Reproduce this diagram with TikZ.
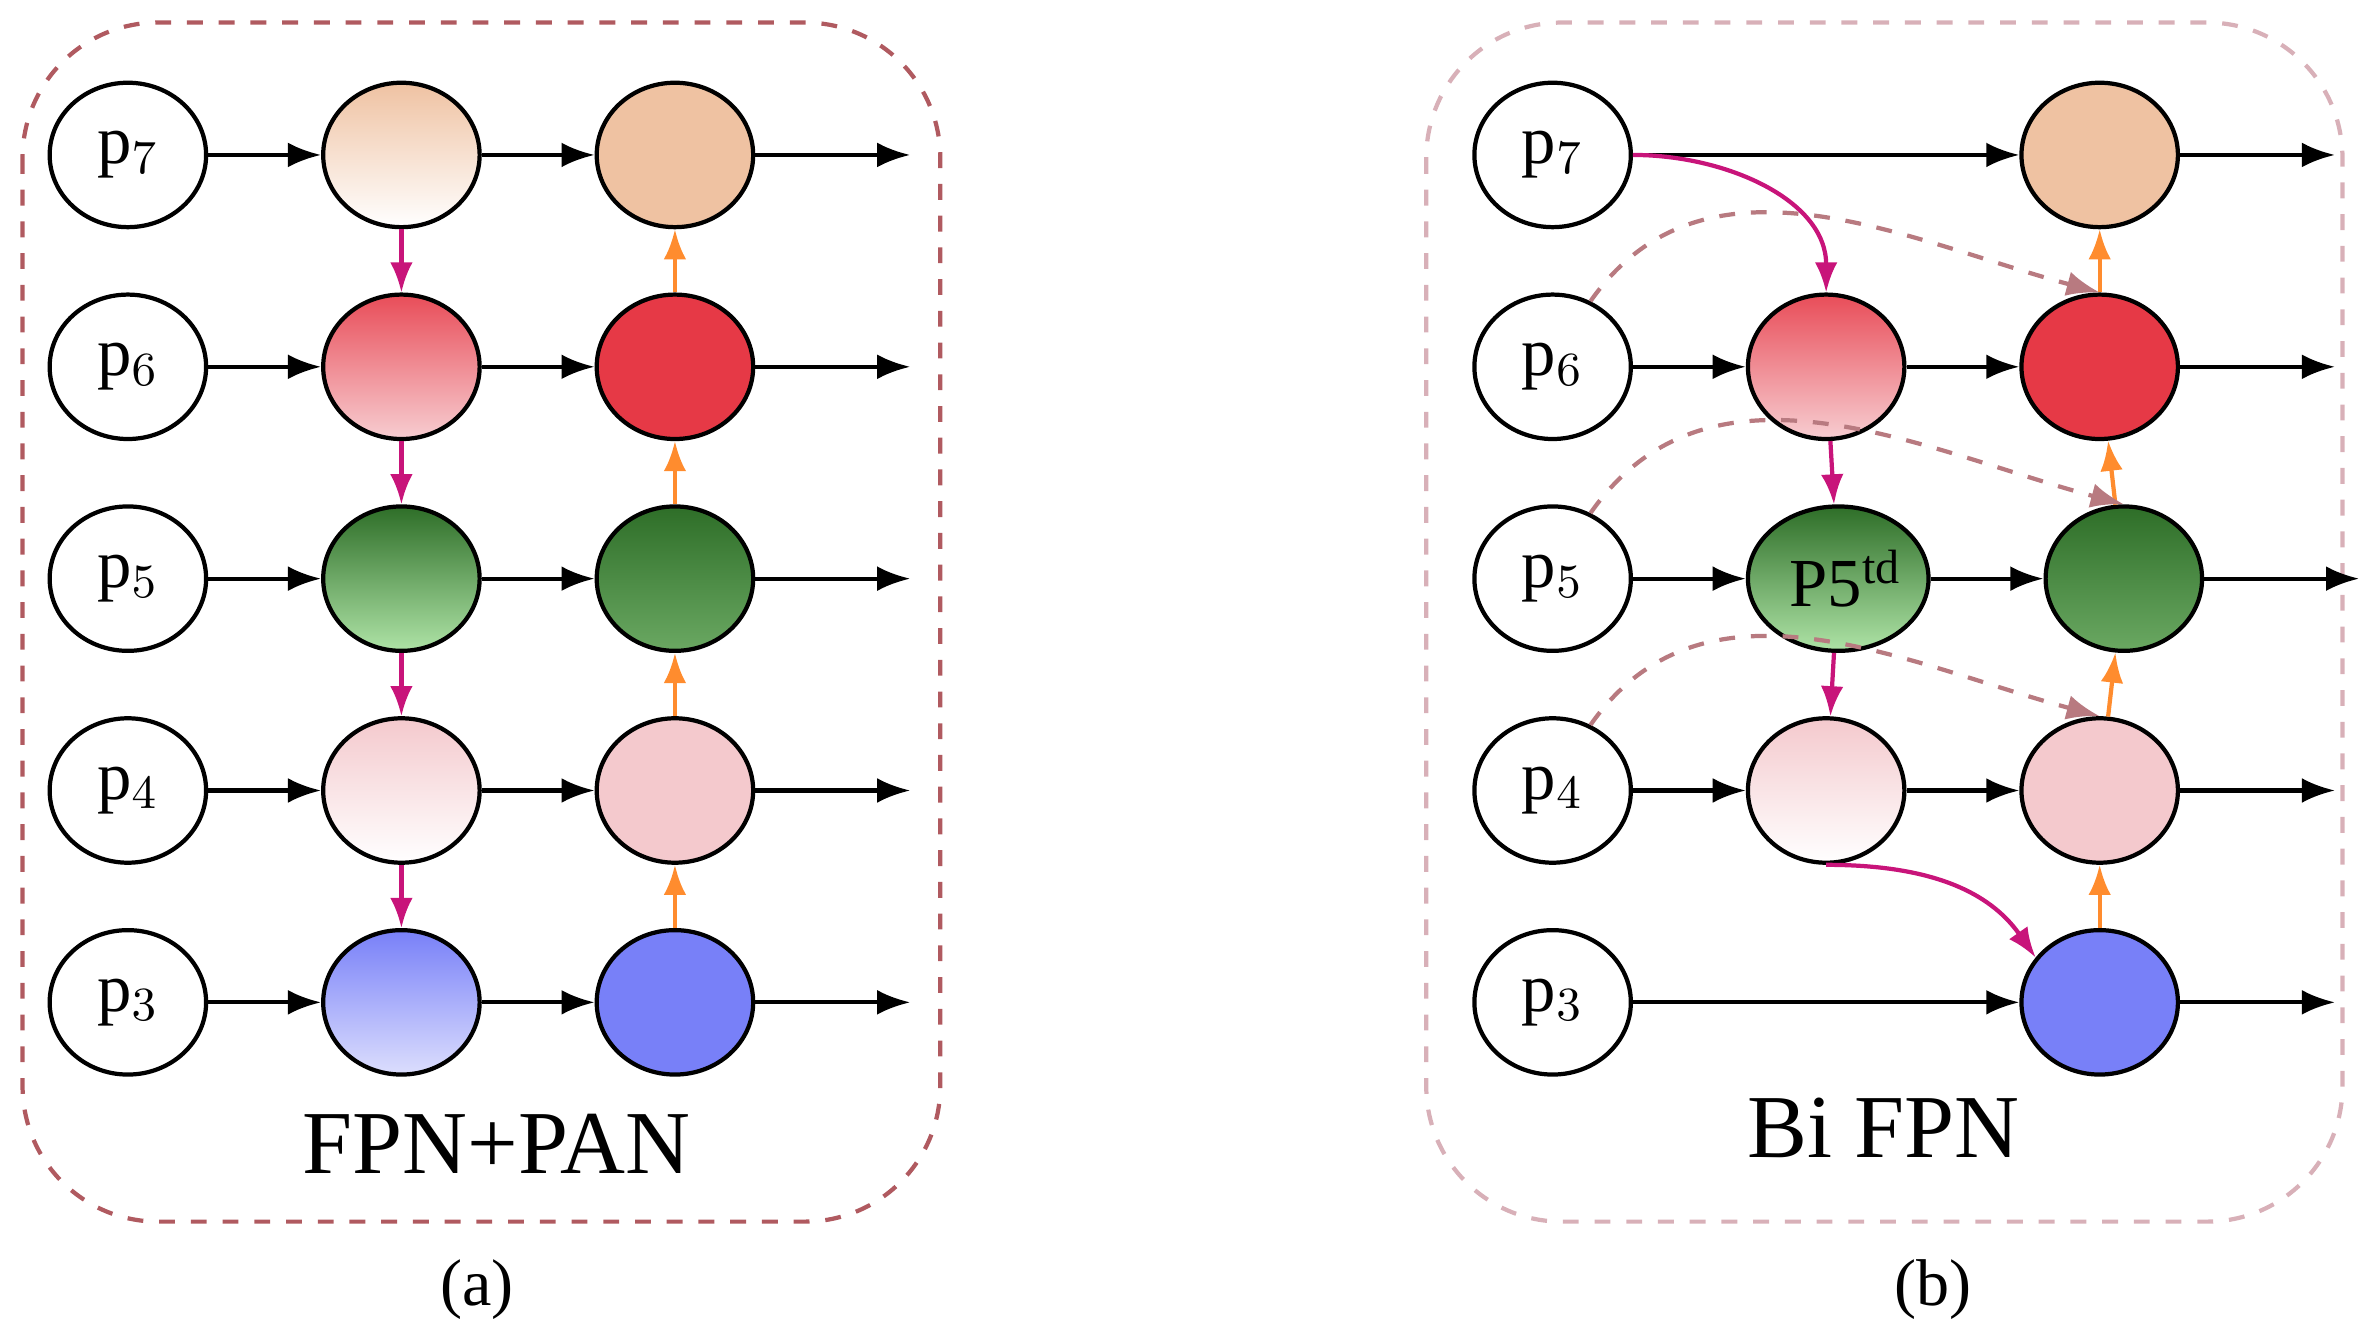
\documentclass[tikz,border=0pt]{standalone}
\usepackage{fontspec}
\setmainfont{Liberation Serif}
\usetikzlibrary{arrows.meta,positioning,shapes.geometric}

\definecolor{peach}{HTML}{EFC2A2}
\definecolor{redc}{HTML}{E63946}
\definecolor{redl}{HTML}{F7CDD1}
\definecolor{greend}{HTML}{2E6E28}
\definecolor{greenm}{HTML}{5CC458}
\definecolor{greenl}{HTML}{AEE3A6}
\definecolor{greenr}{HTML}{6AA862}
\definecolor{pinkc}{HTML}{F4C9CD}
\definecolor{bluec}{HTML}{7880F8}
\definecolor{bluel}{HTML}{DCDEFD}
\definecolor{magc}{HTML}{C8147A}
\definecolor{orac}{HTML}{FF8C2E}
\definecolor{skipc}{HTML}{B87A80}
\definecolor{framea}{HTML}{B05A60}
\definecolor{frameb}{HTML}{D8B0B8}

\begin{document}
\begin{tikzpicture}[
  node distance=0.75cm and 0.75cm,
  >=Latex,
  feat/.style={ellipse, draw, thick, minimum width=1.04cm, minimum height=0.96cm, inner sep=0pt, font=\fontsize{13}{15}\selectfont},
  line/.style={draw, thick, -{Latex[length=2.2mm]}},
  down/.style={draw, thick, magc, -{Latex[length=2mm]}},
  up/.style={draw, thick, orac, -{Latex[length=2mm]}},
  skip/.style={draw, thick, skipc, dashed, -{Latex[length=2.2mm]}},
  frame/.style={draw, thick, dashed, rounded corners=0.9cm},
  title/.style={font=\fontsize{17}{20}\selectfont}
]
\useasboundingbox (0,0) rectangle (15.68,-8.9);

% (a) FPN+PAN
\draw[frame, framea] (0.15,-0.15) rectangle (6.25,-8.12);
\node[feat] (ap7) at (0.85,-1.03) {p$_7$};
\node[feat, below=0.42cm of ap7] (ap6) {p$_6$};
\node[feat, below=0.42cm of ap6] (ap5) {p$_5$};
\node[feat, below=0.42cm of ap5] (ap4) {p$_4$};
\node[feat, below=0.42cm of ap4] (ap3) {p$_3$};
\node[feat, right=of ap7, top color=peach, bottom color=white] (am7) {};
\node[feat, right=of ap6, top color=redc!90, bottom color=redl] (am6) {};
\node[feat, right=of ap5, top color=greend, middle color=greenm, bottom color=greenl] (am5) {};
\node[feat, right=of ap4, top color=pinkc, bottom color=white] (am4) {};
\node[feat, right=of ap3, top color=bluec, bottom color=bluel] (am3) {};
\node[feat, right=of am7, fill=peach] (ar7) {};
\node[feat, right=of am6, fill=redc] (ar6) {};
\node[feat, right=of am5, top color=greend, bottom color=greenr] (ar5) {};
\node[feat, right=of am4, fill=pinkc] (ar4) {};
\node[feat, right=of am3, fill=bluec] (ar3) {};
\foreach \i in {3,...,7} {
  \coordinate[right=1.03cm of ar\i] (ao\i);
  \path[line] (ap\i) -- (am\i);
  \path[line] (am\i) -- (ar\i);
  \path[line] (ar\i) -- (ao\i);
}
\foreach \a/\b in {7/6,6/5,5/4,4/3} {
  \path[down] (am\a) -- (am\b);
  \path[up] (ar\b) -- (ar\a);
}
\node[title] (acap) at (3.3,-7.6) {FPN+PAN};
\node[font=\fontsize{12.5}{15}\selectfont] (alab) at (3.17,-8.57) {(a)};

% (b) BiFPN
\draw[frame, frameb] (9.48,-0.15) rectangle (15.57,-8.12);
\node[feat] (bp7) at (10.32,-1.03) {p$_7$};
\node[feat, below=0.42cm of bp7] (bp6) {p$_6$};
\node[feat, below=0.42cm of bp6] (bp5) {p$_5$};
\node[feat, below=0.42cm of bp5] (bp4) {p$_4$};
\node[feat, below=0.42cm of bp4] (bp3) {p$_3$};
\node[feat, right=of bp6, top color=redc!90, bottom color=redl] (bm6) {};
\node[feat, right=of bp5, top color=greend, middle color=greenm, bottom color=greenl] (bm5) {\hspace{1mm}P5\textsuperscript{td}};
\node[feat, right=of bp4, top color=pinkc, bottom color=white] (bm4) {};
\node[feat, right=of bm6, fill=redc] (br6) {};
\node[feat, above=0.42cm of br6, fill=peach] (br7) {};
\node[feat, right=of bm5, top color=greend, bottom color=greenr] (br5) {};
\node[feat, right=of bm4, fill=pinkc] (br4) {};
\node[feat, below=0.42cm of br4, fill=bluec] (br3) {};
\foreach \i in {3,...,7} {
  \coordinate[right=1.03cm of br\i] (bo\i);
  \path[line] (br\i) -- (bo\i);
}
\path[line] (bp7) -- (br7);
\path[line] (bp3) -- (br3);
\foreach \i in {4,5,6} {
  \path[line] (bp\i) -- (bm\i);
  \path[line] (bm\i) -- (br\i);
}
\path[down] (bp7.east) to[out=0, in=90] (bm6.north);
\path[down] (bm6) -- (bm5);
\path[down] (bm5) -- (bm4);
\path[down] (bm4.south) to[out=0, in=125] (br3.145);
\foreach \a/\b in {7/6,6/5,5/4,4/3} {
  \path[up] (br\b) -- (br\a);
}
\foreach \i in {4,5,6} {
  \path[skip] (bp\i.60) to[out=55, in=165] (br\i.north);
}
\node[title] (bcap) at (12.52,-7.5) {Bi FPN};
\node[font=\fontsize{12.5}{15}\selectfont] (blab) at (12.85,-8.57) {(b)};
\end{tikzpicture}
\end{document}
